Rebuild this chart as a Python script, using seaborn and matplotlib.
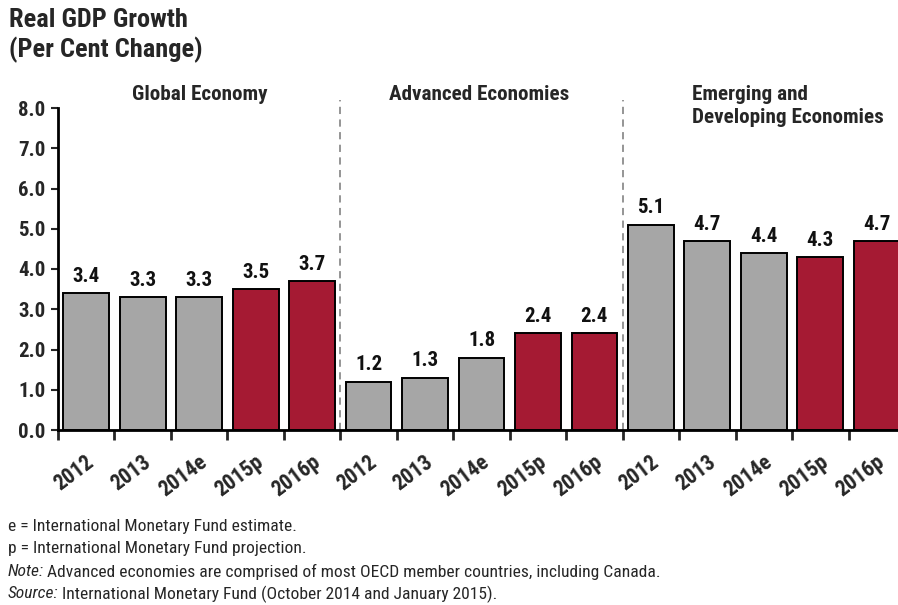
import matplotlib
matplotlib.use("Agg")
import matplotlib.pyplot as plt
import matplotlib.transforms as mtransforms
import seaborn as sns
import pandas as pd
import numpy as np

sns.set_style("white")
plt.rcParams["font.family"] = ["Roboto Condensed", "Archivo Narrow", "DejaVu Sans"]

groups = ["Global Economy", "Advanced Economies", "Emerging and\nDeveloping Economies"]
years = ["2012", "2013", "2014e", "2015p", "2016p"]
global_vals = [3.4, 3.3, 3.3, 3.5, 3.7]
advanced_vals = [1.2, 1.3, 1.8, 2.4, 2.4]
emerging_vals = [5.1, 4.7, 4.4, 4.3, 4.7]
kinds = ["actual", "actual", "actual", "projection", "projection"]
yticks = [0, 1, 2, 3, 4, 5, 6, 7, 8]

values = global_vals + advanced_vals + emerging_vals
df = pd.DataFrame({
    "pos": np.arange(len(values)),
    "value": values,
    "kind": kinds * 3,
    "label": years * 3,
})

W, H = 898, 605
fig = plt.figure(figsize=(W / 100, H / 100), dpi=100)
ax = fig.add_axes([58 / W, 1 - 430 / H, 847 / W, (430 - 108) / H])

sns.barplot(data=df, x="pos", y="value", hue="kind", dodge=False, saturation=1,
            palette={"actual": "#A6A6A6", "projection": "#A51A33"},
            edgecolor="black", linewidth=1.4, width=0.81, legend=False, ax=ax)

ax.set_xlim(-0.5, len(values) - 0.5)
ax.set_ylim(0, 8)
ax.set_xlabel("")
ax.set_ylabel("")

# value labels above each bar
for i, v in enumerate(values):
    ax.text(i, v + 0.18, f"{v:.1f}", ha="center", va="bottom",
            fontsize=15, fontweight="bold", color="#111111")

ax.set_yticks(yticks)
ax.set_yticklabels([f"{t:.1f}" for t in yticks], fontsize=15, fontweight="bold")
ax.tick_params(axis="y", direction="out", length=5, width=1.5, left=True, pad=4)

# boundary ticks between bars; year labels centred under bars
ax.set_xticks(np.arange(-0.5, len(values), 1.0))
ax.set_xticklabels([])
ax.tick_params(axis="x", which="major", direction="out", length=7, width=2, bottom=True)
ax.set_xticks(np.arange(len(values)), minor=True)
ax.set_xticklabels(df["label"], minor=True, rotation=37, ha="right",
                   rotation_mode="anchor", fontsize=15.5, fontweight="bold")
ax.tick_params(axis="x", which="minor", length=0, pad=15)
shift = mtransforms.ScaledTranslation(-1 / 100, 0, fig.dpi_scale_trans)
for lbl in ax.get_xticklabels(minor=True):
    lbl.set_transform(lbl.get_transform() + shift)

for side in ["top", "right"]:
    ax.spines[side].set_visible(False)
for side in ["left", "bottom"]:
    ax.spines[side].set_linewidth(2)
    ax.spines[side].set_color("black")

# dashed separators between economy groups
for b in [4.5, 9.5]:
    ax.axvline(b, ymin=0, ymax=8.2 / 8, color="#8C8C8C", linestyle=(0, (4, 3)),
               linewidth=1.3, clip_on=False)

gfs = 15.2
fig.text(200 / W, 1 - 95 / H, groups[0], ha="center", va="center", fontsize=gfs, fontweight="bold")
fig.text(479 / W, 1 - 95 / H, groups[1], ha="center", va="center", fontsize=gfs, fontweight="bold")
fig.text(692 / W, 1 - 106 / H, groups[2], ha="left", va="center", fontsize=gfs,
         fontweight="bold", linespacing=1.3)

fig.text(9 / W, 1 - 20 / H, "Real GDP Growth", fontsize=19, fontweight="bold", va="center")
fig.text(9 / W, 1 - 50 / H, "(Per Cent Change)", fontsize=19, fontweight="bold", va="center")

# footnotes
fs = 12.6
foot_y = [527, 549, 572, 594]
fig.text(8 / W, 1 - foot_y[0] / H, "e = International Monetary Fund estimate.", fontsize=fs, va="center")
fig.text(8 / W, 1 - foot_y[1] / H, "p = International Monetary Fund projection.", fontsize=fs, va="center")
t1 = fig.text(8 / W, 1 - foot_y[2] / H, "Note:", fontsize=fs, va="center", style="italic")
t2 = fig.text(8 / W, 1 - foot_y[3] / H, "Source:", fontsize=fs, va="center", style="italic")
fig.canvas.draw()
r = fig.canvas.get_renderer()
w1 = t1.get_window_extent(r).width
w2 = t2.get_window_extent(r).width
fig.text((8 + w1 + 3) / W, 1 - foot_y[2] / H,
         "Advanced economies are comprised of most OECD member countries, including Canada.",
         fontsize=fs, va="center")
fig.text((8 + w2 + 3) / W, 1 - foot_y[3] / H,
         "International Monetary Fund (October 2014 and January 2015).",
         fontsize=fs, va="center")

fig.savefig("out.png", dpi=100)
